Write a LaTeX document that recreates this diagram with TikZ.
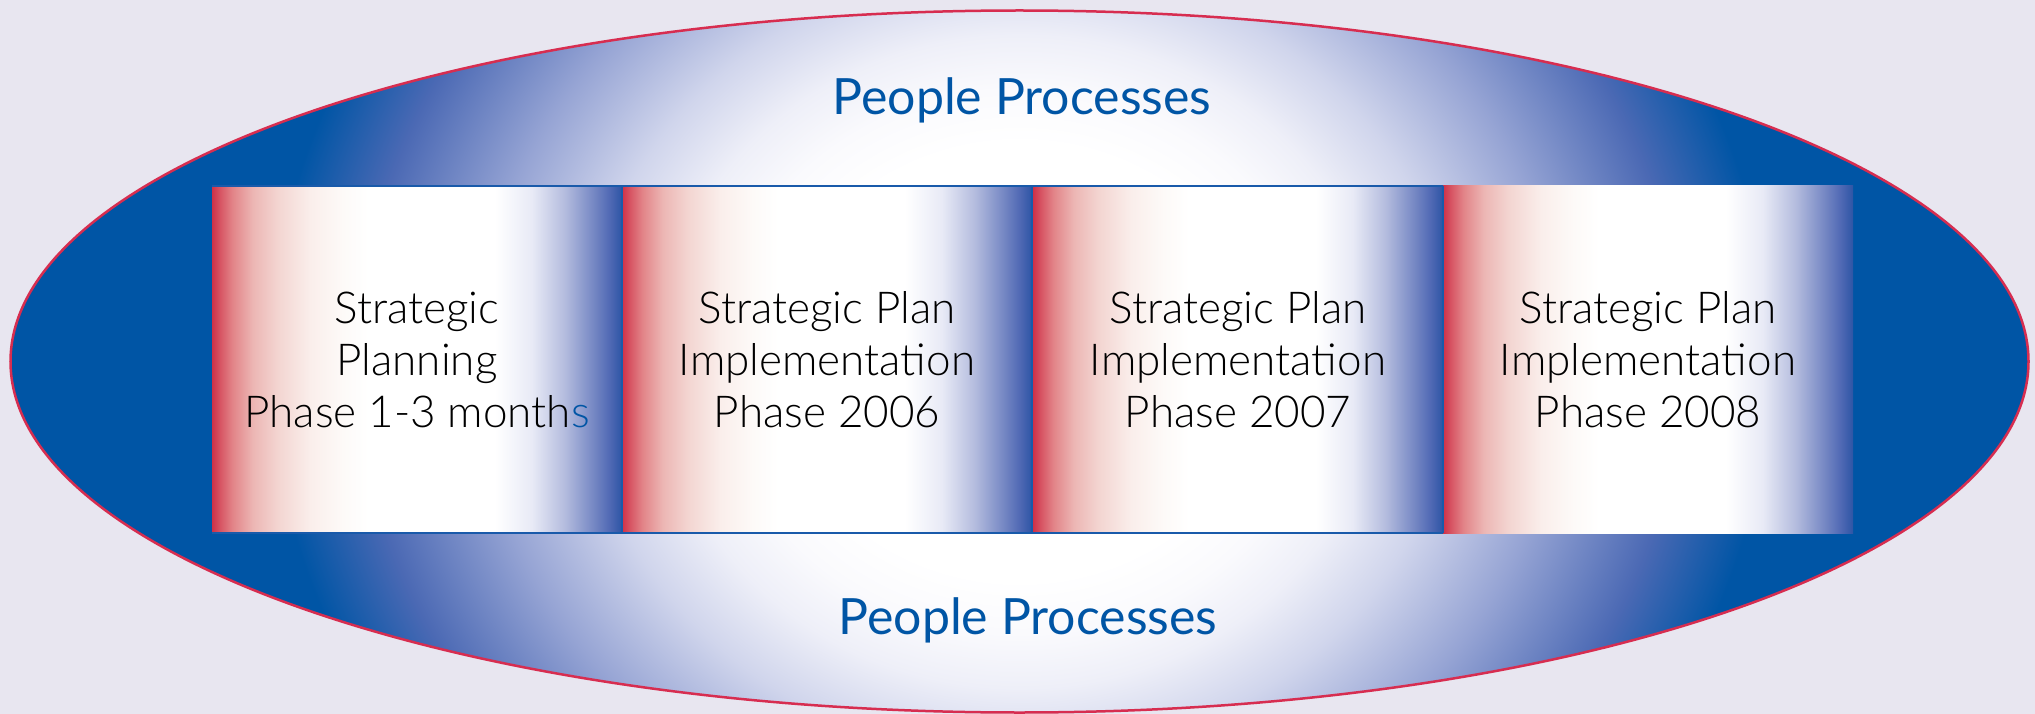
\documentclass[tikz,border=0pt]{standalone}
\usepackage{fontspec}
\setmainfont{Lato}
\newfontfamily\boxfont{Lato Light}
\definecolor{pblue}{RGB}{0,85,165}
\definecolor{bgcol}{RGB}{232,230,240}
\definecolor{ellred}{RGB}{215,45,80}
\definecolor{bordblue}{RGB}{25,90,170}
% box gradient colours
\definecolor{r0}{RGB}{208,48,72}
\definecolor{r1}{RGB}{215,85,100}
\definecolor{r2}{RGB}{226,132,136}
\definecolor{r3}{RGB}{236,182,180}
\definecolor{r4}{RGB}{243,213,209}
\definecolor{r5}{RGB}{250,238,235}
\definecolor{r6}{RGB}{253,250,248}
\definecolor{l1}{RGB}{232,234,246}
\definecolor{l2}{RGB}{180,188,222}
\definecolor{l3}{RGB}{118,136,196}
\definecolor{l4}{RGB}{80,105,180}
\definecolor{l5}{RGB}{45,85,165}
% ellipse gradient colours
\definecolor{e0}{RGB}{250,250,253}
\definecolor{e1}{RGB}{238,239,248}
\definecolor{e2}{RGB}{208,213,236}
\definecolor{e3}{RGB}{150,164,212}
\definecolor{e4}{RGB}{75,105,180}
\pgfdeclarehorizontalshading{boxgrad}{100bp}{color(0bp)=(r0); color(25bp)=(r0); color(26bp)=(r1); color(27.5bp)=(r2); color(30bp)=(r3); color(33bp)=(r4); color(37bp)=(r5); color(41bp)=(r6); color(44bp)=(white); color(59.5bp)=(white); color(64bp)=(l1); color(68bp)=(l2); color(71.5bp)=(l3); color(73.5bp)=(l4); color(75bp)=(l5); color(100bp)=(l5)}
\pgfdeclareradialshading{ellgrad}{\pgfpoint{0bp}{0bp}}{color(0bp)=(white); color(8bp)=(white); color(10bp)=(e0); color(12bp)=(e1); color(14.5bp)=(e2); color(18bp)=(e3); color(22bp)=(e4); color(25bp)=(pblue); color(50bp)=(pblue)}
\begin{document}
\begin{tikzpicture}[x=1pt,y=-1pt,
  boxnode/.style={shade, shading=boxgrad, minimum width=410pt, minimum height=347pt,
    inner sep=0pt, align=center, text=black, font=\boxfont\fontsize{44}{52}\selectfont},
  pptext/.style={text=pblue, font=\fontsize{50}{58}\selectfont, anchor=base, inner sep=0pt},
  border/.style={draw=bordblue, line width=2.5pt}]
\useasboundingbox (0,0) rectangle (2035,714);
\fill[bgcol] (0,0) rectangle (2035,714);
\begin{scope}
  \clip (1019.5,361.5) ellipse [x radius=1009pt, y radius=351pt];
  \fill[pblue] (0,0) rectangle (2035,714);
  \shade[shading=ellgrad] (269.5,-318.5) rectangle (1769.5,1041.5);
\end{scope}
\draw[ellred, line width=2.5pt] (1019.5,361.5) ellipse [x radius=1009pt, y radius=351pt];

\node[boxnode] (b1) at (417,359.5) {Strategic\\Planning\\Phase 1-3 month\textcolor{pblue}{s}};
\node[boxnode] (b2) at (827,359.5) {Strategic Plan\\Implementation\\Phase 2006};
\node[boxnode] (b3) at (1238,359.5) {Strategic Plan\\Implementation\\Phase 2007};
\node[boxnode] (b4) at (1648,359.5) {Strategic Plan\\Implementation\\Phase 2008};

\draw[border] (b1.north west) -- (b3.north east);
\draw[border] (b1.south west) -- (b3.south east);
\draw[border] (b1.north east) -- (b1.south east);
\draw[border] (b2.north east) -- (b2.south east);
\draw[border] (b3.north east) -- (b3.south east);

\node[pptext] (pt) at (1022,115) {People Processes};
\node[pptext] (pb) at (1028,634) {People Processes};
\end{tikzpicture}
\end{document}
